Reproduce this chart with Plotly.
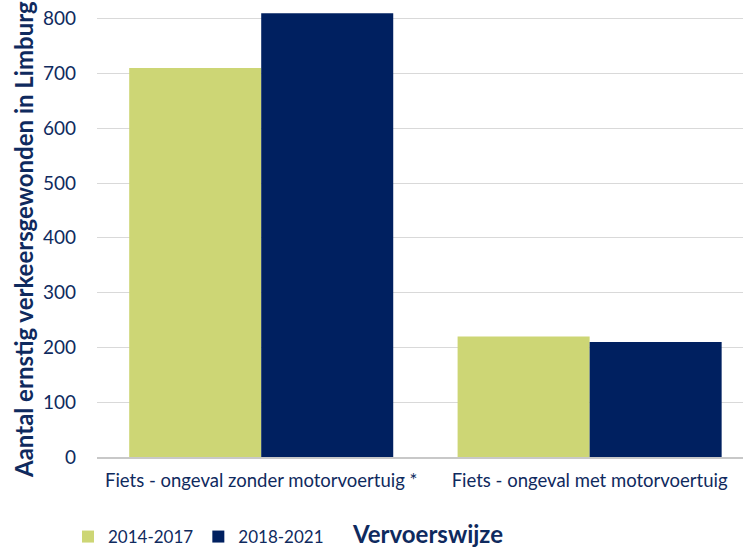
import plotly.graph_objects as go

categories = ["Fiets - ongeval zonder motorvoertuig *", "Fiets - ongeval met motorvoertuig"]
series_names = ["2014-2017", "2018-2021"]
values_2014_2017 = [710, 220]
values_2018_2021 = [810, 210]
y_ticks = [0, 100, 200, 300, 400, 500, 600, 700, 800]

colors = ["#CDD675", "#002060"]
font_family = "Lato, sans-serif"
navy = "#0F2A5E"

W, H = 743, 548
ml, mr, mt, mb = 97, 0, 0, 91

fig = go.Figure()
for name, vals, c in zip(series_names, [values_2014_2017, values_2018_2021], colors):
    fig.add_trace(go.Bar(name=name, x=categories, y=vals, marker=dict(color=c, line=dict(width=0))))

pw = W - ml - mr
ph = H - mt - mb

fig.update_layout(
    width=W, height=H,
    margin=dict(l=ml, r=mr, t=mt, b=mb, autoexpand=False),
    paper_bgcolor="white", plot_bgcolor="white",
    barmode="group", bargap=0.196, bargroupgap=0,
    font=dict(family=font_family, color=navy, size=19),
    showlegend=True,
    legend=dict(orientation="h", xref="container", yref="container",
                x=68 / W, xanchor="left", y=(H - 537) / H, yanchor="middle",
                font=dict(size=17, color=navy, family=font_family), itemwidth=30,
                traceorder="normal", tracegroupgap=0),
    xaxis=dict(range=[-0.5, 1.467], showgrid=False, showline=True, linecolor="#C8C8C8", linewidth=1.5,
               ticks="", automargin=False, ticklabelstandoff=6,
               tickfont=dict(size=18.5, color=navy, family=font_family)),
    yaxis=dict(range=[0, 834], tickvals=y_ticks, showgrid=True, gridcolor="#D9D9D9", gridwidth=1,
               zeroline=False, showline=False, ticks="", ticklabelstandoff=20, automargin=False,
               tickfont=dict(size=19, color=navy, family=font_family)),
    annotations=[
        dict(text="<b>Aantal ernstig verkeersgewonden in Limburg</b>", textangle=-90,
             xref="paper", yref="paper", x=(23 - ml) / pw, y=(ph - 240) / ph,
             xanchor="center", yanchor="middle", showarrow=False,
             font=dict(size=24, color=navy, family=font_family)),
        dict(text="<b>Vervoerswijze</b>", xref="paper", yref="paper",
             x=(427 - ml) / pw, y=-(533 - ph) / ph, xanchor="center", yanchor="middle",
             showarrow=False, font=dict(size=24, color=navy, family=font_family)),
    ],
)

fig.write_html("out.html", config={"displayModeBar": False},
               post_script="document.body.style.margin='0';document.body.style.overflow='hidden';")
